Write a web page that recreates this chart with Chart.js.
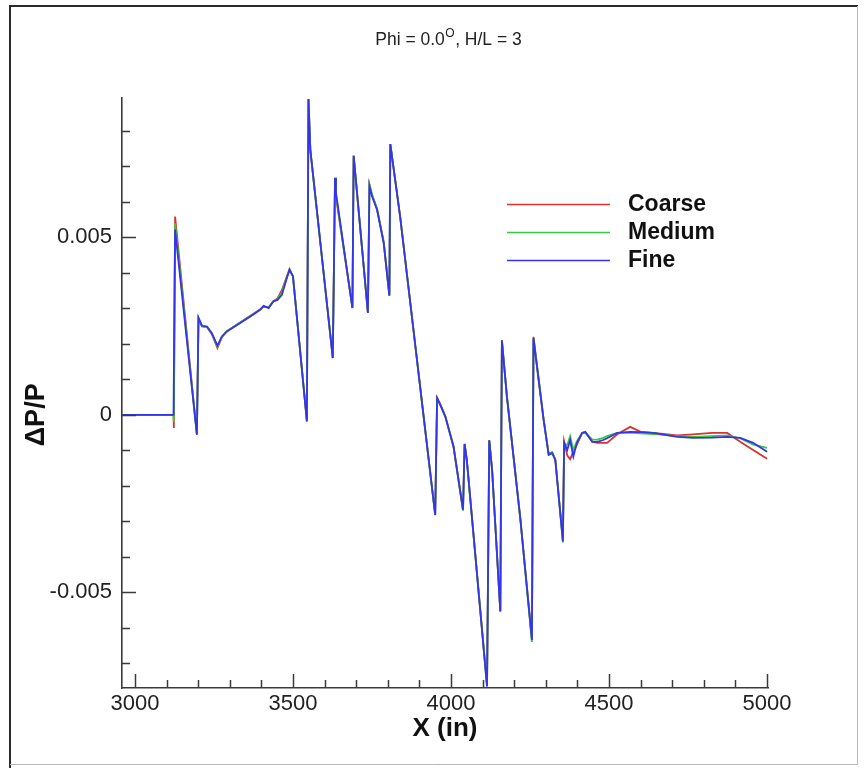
<!DOCTYPE html>
<html>
<head>
<meta charset="utf-8">
<title>Phi = 0.0, H/L = 3</title>
<script src="https://cdn.jsdelivr.net/npm/chart.js@4"></script>
<style>
  html, body { margin: 0; padding: 0; background: #fff; }
  #wrap { width: 864px; height: 770px; }
</style>
</head>
<body>
<div id="wrap"><canvas id="dp-chart" width="864" height="770"></canvas></div>
<script>
// shared stations along X (in)
const xInches = [
  2960, 3122, 3123, 3127, 3196, 3201, 3212, 3228, 3243, 3261,
  3275, 3291, 3333, 3365, 3396, 3407, 3423, 3438, 3451, 3465,
  3479, 3489, 3500, 3544, 3549, 3555, 3626, 3633, 3636, 3688,
  3692, 3697, 3737, 3742, 3750, 3766, 3787, 3805, 3808, 3816,
  3839, 3950, 3956, 3966, 3982, 4008, 4038, 4043, 4050, 4114,
  4121, 4130, 4156, 4161, 4177, 4219, 4256, 4261, 4272, 4293,
  4309, 4320, 4330, 4354, 4358, 4368, 4377, 4387, 4398, 4415,
  4425, 4447, 4463, 4482, 4494, 4526, 4567, 4600, 4640, 4716,
  4766, 4826, 4874, 4915, 4956, 5000
];

const coarseDpp = [
  0, 0, -0.00037, 0.00559, -0.00056, 0.0027, 0.00249, 0.00247, 0.00228, 0.00188,
  0.00219, 0.00236, 0.0026, 0.00279, 0.00297, 0.00305, 0.00303, 0.0032, 0.00328, 0.00352,
  0.00386, 0.0041, 0.0039, -0.00017, 0.0089, 0.00745, 0.0016, 0.00665, 0.00615, 0.00302,
  0.0073, 0.0068, 0.00288, 0.00648, 0.0062, 0.0058, 0.00488, 0.00336, 0.00763, 0.0071,
  0.0056, -0.00282, 0.00048, 0.0003, -0.00004, -0.0009, -0.00268, -0.00082, -0.00127, -0.00762,
  -0.00072, -0.00155, -0.00552, 0.0021, 0.00052, -0.0029, -0.0063, 0.0022, 0.0014, -0.00012,
  -0.0011, -0.00106, -0.00126, -0.0035, -0.00075, -0.00115, -0.00125, -0.00104, -0.00085, -0.00051,
  -0.0005, -0.00076, -0.00079, -0.00079, -0.00079, -0.00055, -0.00034, -0.00048, -0.00051, -0.00058,
  -0.00055, -0.00051, -0.00051, -0.00076, -0.00099, -0.00124
];

const mediumDpp = [
  0, 0, -0.0002, 0.0054, -0.00056, 0.00272, 0.0025, 0.00248, 0.00229, 0.00192,
  0.0022, 0.00236, 0.0026, 0.00278, 0.00297, 0.00306, 0.00302, 0.0032, 0.00326, 0.00345,
  0.00384, 0.00409, 0.0039, -0.00018, 0.0089, 0.00745, 0.0016, 0.00668, 0.0062, 0.00302,
  0.0073, 0.0068, 0.00288, 0.0065, 0.00622, 0.0058, 0.00487, 0.00336, 0.00763, 0.0071,
  0.00559, -0.00283, 0.00047, 0.00029, -0.00005, -0.0009, -0.0027, -0.00082, -0.00127, -0.00764,
  -0.00072, -0.00155, -0.00553, 0.0021, 0.0005, -0.0029, -0.0064, 0.00216, 0.00137, -0.00013,
  -0.00112, -0.00106, -0.00126, -0.0036, -0.00082, -0.00085, -0.0006, -0.001, -0.00075, -0.00051,
  -0.0005, -0.0007, -0.0007, -0.00065, -0.0006, -0.00051, -0.0005, -0.00052, -0.00054, -0.0006,
  -0.00062, -0.0006, -0.00058, -0.00066, -0.00084, -0.00093
];

const fineDpp = [
  0, 0, 0, 0.00522, -0.00056, 0.00274, 0.00251, 0.00249, 0.00231, 0.00195,
  0.00221, 0.00235, 0.00259, 0.00277, 0.00296, 0.00307, 0.00301, 0.0032, 0.00324, 0.00338,
  0.00381, 0.00409, 0.0039, -0.00019, 0.0089, 0.00747, 0.0016, 0.00668, 0.00626, 0.00301,
  0.0073, 0.00682, 0.00287, 0.00644, 0.00616, 0.00578, 0.00484, 0.00336, 0.00763, 0.0071,
  0.00559, -0.00282, 0.00047, 0.00028, -0.00005, -0.00089, -0.00268, -0.00082, -0.00127, -0.00766,
  -0.00072, -0.00155, -0.00555, 0.0021, 0.0005, -0.0029, -0.00635, 0.00216, 0.00136, -0.00014,
  -0.00113, -0.00108, -0.00127, -0.00357, -0.00079, -0.00099, -0.00071, -0.00118, -0.0008, -0.00051,
  -0.00048, -0.00076, -0.00076, -0.00071, -0.00066, -0.00051, -0.00048, -0.00049, -0.00051, -0.00062,
  -0.00065, -0.00064, -0.00062, -0.00065, -0.00079, -0.00104
];

const seriesNames = ['Coarse', 'Medium', 'Fine'];
const xTickValues = [3000, 3500, 4000, 4500, 5000];
const xTickLabels = ['3000', '3500', '4000', '4500', '5000'];
const yTickValues = [-0.005, 0, 0.005];
const yTickLabels = ['-0.005', '0', '0.005'];
const yAxisTitle = 'ΔP/P';

const seriesColors = ['#d83232', '#3cc83c', '#3434ea'];
const axisColor = '#3a3a3a';
const fontFamily = '"Liberation Sans", Arial, Helvetica, sans-serif';

const toPoints = ys => xInches.map((x, i) => ({ x: x, y: ys[i] }));

// white page + thin frame around the figure
const framePlugin = {
  id: 'frame',
  beforeDraw(chart) {
    const ctx = chart.ctx;
    ctx.save();
    ctx.fillStyle = '#fff';
    ctx.fillRect(0, 0, chart.width, chart.height);
    ctx.strokeStyle = '#2a2a2a';
    ctx.lineWidth = 2;
    ctx.beginPath();
    ctx.moveTo(10, 768);
    ctx.lineTo(10, 6);
    ctx.lineTo(858, 6);
    ctx.stroke();
    ctx.strokeStyle = '#b8b8b8';
    ctx.lineWidth = 1;
    ctx.beginPath();
    ctx.moveTo(857.5, 6);
    ctx.lineTo(857.5, 764.5);
    ctx.lineTo(10, 764.5);
    ctx.stroke();
    ctx.restore();
  }
};

// tecplot style ticks pointing into the plot
const innerTicks = {
  id: 'innerTicks',
  afterDraw(chart) {
    const { ctx, chartArea: a } = chart;
    const xs = chart.scales.x, ys = chart.scales.y;
    ctx.save();
    ctx.strokeStyle = axisColor;
    ctx.lineWidth = 1.5;
    ctx.beginPath();
    for (let v = 3000; v <= 5000; v += 100) {
      const px = Math.round(xs.getPixelForValue(v)) + 0.5;
      const len = xTickValues.includes(v) ? 14 : 8;
      ctx.moveTo(px, a.bottom);
      ctx.lineTo(px, a.bottom - len);
    }
    for (let k = -7; k <= 8; k++) {
      const py = Math.round(ys.getPixelForValue(k / 1000)) + 0.5;
      const len = k % 5 === 0 ? 14 : 8;
      ctx.moveTo(a.left, py);
      ctx.lineTo(a.left + len, py);
    }
    ctx.stroke();
    ctx.restore();
  }
};

// title with superscript O, y-axis title centred on zero, and the line legend
const annotations = {
  id: 'annotations',
  afterDraw(chart) {
    const ctx = chart.ctx;
    const a = chart.chartArea;
    ctx.save();
    ctx.fillStyle = '#222';
    ctx.textBaseline = 'alphabetic';
    const partA = 'Phi = 0.0', partB = 'O', partC = ', H/L = 3';
    const big = '17.5px ' + fontFamily, small = '12px ' + fontFamily;
    ctx.font = big;
    const wA = ctx.measureText(partA).width, wC = ctx.measureText(partC).width;
    ctx.font = small;
    const wB = ctx.measureText(partB).width;
    let tx = 448 - (wA + wB + wC) / 2;
    const base = 45;
    ctx.font = big;
    ctx.textAlign = 'left';
    ctx.fillText(partA, tx, base);
    tx += wA;
    ctx.font = small;
    ctx.fillText(partB, tx + 0.5, base - 8);
    tx += wB + 1;
    ctx.font = big;
    ctx.fillText(partC, tx, base);

    // y axis title
    ctx.save();
    ctx.translate(37, chart.scales.y.getPixelForValue(0));
    ctx.rotate(-Math.PI / 2);
    ctx.textAlign = 'center';
    ctx.textBaseline = 'middle';
    ctx.font = 'bold 27px ' + fontFamily;
    ctx.fillStyle = '#111';
    ctx.fillText(yAxisTitle, 0, 0);
    ctx.restore();

    const rows = [204, 232, 260];
    ctx.lineWidth = 1.6;
    ctx.textAlign = 'left';
    ctx.textBaseline = 'middle';
    ctx.font = 'bold 23px ' + fontFamily;
    seriesNames.forEach((name, i) => {
      ctx.strokeStyle = seriesColors[i];
      ctx.beginPath();
      ctx.moveTo(507, rows[i] + 0.5);
      ctx.lineTo(610, rows[i] + 0.5);
      ctx.stroke();
      ctx.fillStyle = '#111';
      ctx.fillText(name, 628, rows[i] + 1);
    });
    ctx.restore();
  }
};

const datasets = [coarseDpp, mediumDpp, fineDpp].map((ys, i) => ({
  label: seriesNames[i],
  data: toPoints(ys),
  borderColor: seriesColors[i],
  backgroundColor: seriesColors[i],
  borderWidth: 1.8,
  pointRadius: 0,
  tension: 0,
  fill: false,
  order: 3 - i
}));

new Chart(document.getElementById('dp-chart').getContext('2d'), {
  type: 'line',
  data: { datasets: datasets },
  options: {
    responsive: false,
    animation: false,
    devicePixelRatio: 1,
    layout: { padding: { left: 0, top: 98, right: 96, bottom: 0 } },
    plugins: {
      legend: { display: false },
      tooltip: { enabled: false },
      title: { display: false }
    },
    scales: {
      x: {
        type: 'linear',
        min: 2959,
        max: 5003,
        afterBuildTicks: s => { s.ticks = xTickValues.map(v => ({ value: v })); },
        afterFit: s => { s.height = 82; },
        grid: { display: false, drawTicks: false },
        border: { display: true, color: axisColor, width: 1.6 },
        ticks: {
          padding: 3,
          color: '#222',
          maxRotation: 0,
          autoSkip: false,
          font: { family: fontFamily, size: 22 },
          callback: (v, i) => xTickLabels[i]
        },
        title: {
          display: true,
          text: 'X (in)',
          color: '#111',
          font: { family: fontFamily, size: 26, weight: 'bold' },
          padding: { top: 0, bottom: 26 }
        }
      },
      y: {
        type: 'linear',
        min: -0.0077,
        max: 0.00893,
        afterBuildTicks: s => { s.ticks = yTickValues.map(v => ({ value: v })); },
        afterFit: s => { s.width = 122; },
        grid: { display: false, drawTicks: false },
        border: { display: true, color: axisColor, width: 1.6 },
        ticks: {
          padding: 10,
          color: '#222',
          font: { family: fontFamily, size: 22 },
          callback: (v, i) => yTickLabels[i]
        },
        title: { display: false }
      }
    }
  },
  plugins: [framePlugin, innerTicks, annotations]
});
</script>
</body>
</html>
